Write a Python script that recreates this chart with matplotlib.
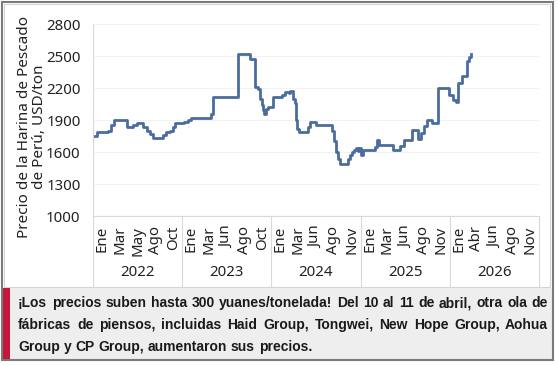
import matplotlib
matplotlib.use("Agg")
import matplotlib.pyplot as plt
import matplotlib.transforms as mtransforms
from matplotlib.patches import Rectangle

# ------------------------------------------------------------------
# Data, decimal year -> USD/ton
# ------------------------------------------------------------------
t = [2022.000, 2022.045, 2022.168, 2022.202, 2022.235, 2022.381, 2022.448,
     2022.493, 2022.561, 2022.605, 2022.639, 2022.673, 2022.785, 2022.818,
     2022.863, 2022.897, 2022.919, 2023.020, 2023.065, 2023.099, 2023.323,
     2023.345, 2023.626, 2023.760, 2023.816, 2023.850, 2023.872, 2023.895,
     2023.906, 2023.917, 2023.939, 2023.962, 2024.018, 2024.119, 2024.152,
     2024.197, 2024.209, 2024.242, 2024.265, 2024.276, 2024.287, 2024.309,
     2024.410, 2024.433, 2024.500, 2024.679, 2024.702, 2024.724, 2024.747,
     2024.769, 2024.859, 2024.881, 2024.904, 2024.926, 2024.948, 2024.971,
     2024.982, 2025.004, 2025.027, 2025.161, 2025.184, 2025.206, 2025.363,
     2025.442, 2025.487, 2025.576, 2025.643, 2025.677, 2025.711, 2025.744,
     2025.800, 2025.868, 2025.991, 2026.036, 2026.070, 2026.092, 2026.137,
     2026.193, 2026.215, 2026.238]
price = [1750, 1790, 1800, 1850, 1900, 1830, 1850,
         1870, 1830, 1800, 1770, 1730, 1760, 1790,
         1800, 1830, 1870, 1880, 1900, 1920, 1960,
         2120, 2520, 2470, 2210, 2190, 2100, 2040,
         1990, 1960, 2000, 2020, 2120, 2130, 2160,
         2150, 2170, 2100, 2060, 1900, 1820, 1790,
         1830, 1880, 1850, 1800, 1700, 1600, 1530,
         1490, 1530, 1570, 1600, 1620, 1640, 1610,
         1640, 1570, 1620, 1650, 1710, 1670, 1620,
         1660, 1710, 1810, 1720, 1780, 1840, 1900,
         1870, 2200, 2130, 2090, 2070, 2250, 2310,
         2450, 2490, 2520]

years = [2022, 2023, 2024, 2025, 2026]
month_labels = [
    ["Ene", "Mar", "May", "Ago", "Oct"],
    ["Ene", "Mar", "Jun", "Ago", "Oct"],
    ["Ene", "Mar", "Jun", "Ago", "Nov"],
    ["Ene", "Mar", "Jun", "Ago", "Nov"],
    ["Ene", "Abr", "Jun", "Ago", "Nov"],
]
y_ticks = [1000, 1300, 1600, 1900, 2200, 2500, 2800]

ylabel = "Precio de la Harina de Pescado\nde Perú, USD/ton"
caption_lines = [
    "¡Los precios suben hasta 300 yuanes/tonelada! Del 10 al 11 de abril, otra ola de",
    "fábricas de piensos, incluidas Haid Group, Tongwei, New Hope Group, Aohua",
    "Group y CP Group, aumentaron sus precios.",
]

# ------------------------------------------------------------------
# Figure
# ------------------------------------------------------------------
W, H = 558, 365
fig = plt.figure(figsize=(W / 100, H / 100), dpi=100)
fig.patch.set_facecolor("white")


def fx(px):
    return px / W


def fy(py):
    return 1 - py / H


# frames and caption panel
fig.add_artist(Rectangle((fx(3.5), fy(287)), fx(550) - fx(3.5), fy(4) - fy(287),
                         transform=fig.transFigure, fill=False,
                         ec="#d4d4d4", lw=0.8))
fig.add_artist(Rectangle((fx(3), fy(359)), fx(552) - fx(3), fy(288) - fy(359),
                         transform=fig.transFigure, fc="#eeeeee", ec="none"))
fig.add_artist(Rectangle((fx(3), fy(359)), fx(10) - fx(3), fy(288) - fy(359),
                         transform=fig.transFigure, fc="#c4173b", ec="none"))
fig.add_artist(Rectangle((fx(1.5), fy(360)), fx(553) - fx(1.5), fy(1.5) - fy(360),
                         transform=fig.transFigure, fill=False,
                         ec="#7a7a7a", lw=1.5))

ax = fig.add_axes([fx(93), fy(216), fx(539) - fx(93), fy(24) - fy(216)])
ax.step(t, price, where="post", color="#4a6d9e", lw=2.0, solid_joinstyle="round")

ax.set_xlim(2022, 2027)
ax.set_ylim(1000, 2800)
ax.set_yticks(y_ticks)
ax.grid(axis="y", color="#f3f3f3", lw=0.8)
ax.set_axisbelow(True)

for s in ["top", "right"]:
    ax.spines[s].set_visible(False)
for s in ["left", "bottom"]:
    ax.spines[s].set_color("#d9d9d9")
    ax.spines[s].set_linewidth(0.8)

font = "Noto Sans"
ax.tick_params(axis="y", length=0, pad=9, labelsize=10.8, labelcolor="#222222")
for lab in ax.get_yticklabels():
    lab.set_family(font)

# month labels
pos, labs = [], []
for y, months in zip(years, month_labels):
    for i, m in enumerate(months):
        pos.append(y + (i + 0.5) / 5)
        labs.append(m)
ax.set_xticks(pos)
ax.set_xticklabels(labs, rotation=90, family=font, fontsize=10.8, color="#222222")
ax.tick_params(axis="x", length=0, pad=7)

# year labels and separators under the axis
trans = mtransforms.blended_transform_factory(ax.transData, ax.transAxes)
sep_bottom = -(286 - 216) / (216 - 24)
for y in years + [2027]:
    ax.plot([y, y], [0, sep_bottom], transform=trans, color="#d9d9d9",
            lw=0.8, clip_on=False)
year_y = -(272 - 216) / (216 - 24)
for y in years:
    ax.text(y + 0.5, year_y, str(y), transform=trans, ha="center", va="center",
            family=font, fontsize=10.8, color="#222222")

ax.set_ylabel(ylabel, family=font, fontsize=11, color="#222222",
              linespacing=1.0)
ax.yaxis.set_label_coords((47 - 93) / (539 - 93), (216 - 127) / (216 - 24))

# caption, justified word by word like the original
fig.canvas.draw()
renderer = fig.canvas.get_renderer()
x0, x1 = 18, 548
line_y = [303, 325, 347]
cap_kw = dict(family="Liberation Sans", weight="bold", fontsize=10.0)


def text_width(s):
    probe = fig.text(0, 0, s, **cap_kw)
    w_ = probe.get_window_extent(renderer).width
    probe.remove()
    return w_


for k, (line, ly) in enumerate(zip(caption_lines, line_y)):
    words = line.split(" ")
    # natural left edge of each word inside the full line
    starts = []
    for i, w_ in enumerate(words):
        starts.append(text_width(" ".join(words[:i + 1])) - text_width(w_))
    if k < len(caption_lines) - 1:
        extra = (x1 - x0 - text_width(line)) / (len(words) - 1)
    else:
        extra = 0
    for i, w_ in enumerate(words):
        fig.text(fx(x0 + starts[i] + i * extra), fy(ly), w_, color="#1a1a1a",
                 va="center", ha="left", **cap_kw)

fig.savefig("out.png", dpi=100)
